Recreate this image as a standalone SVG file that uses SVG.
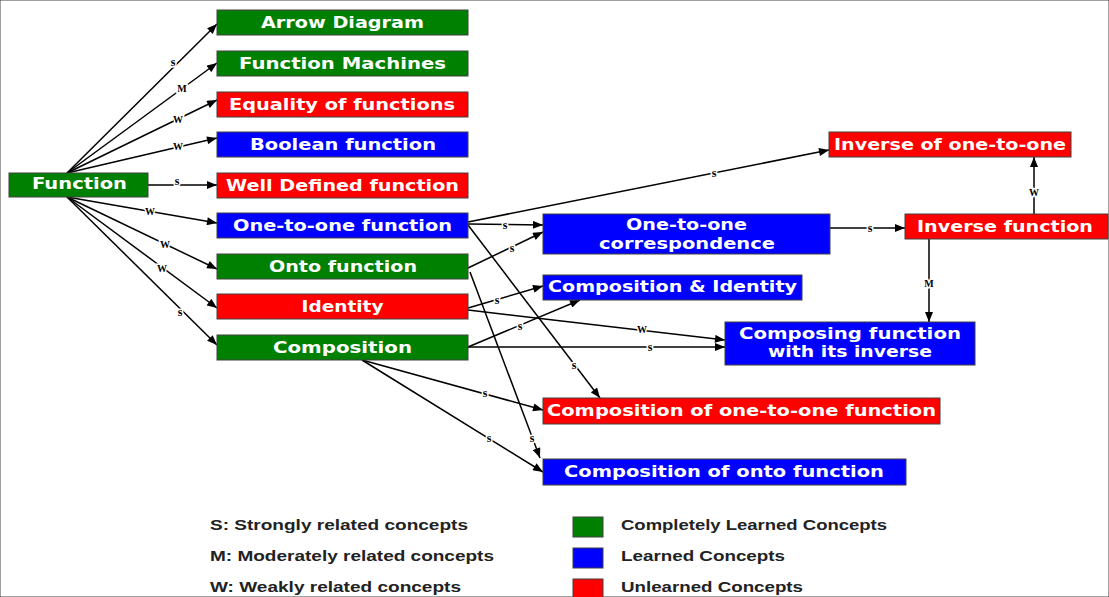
<svg xmlns="http://www.w3.org/2000/svg" width="1109" height="597" viewBox="0 0 1109 597">
<style>
.g{fill:#008000}.b{fill:#0000ff}.r{fill:#ff0000}
rect{stroke:#404040;stroke-width:1}
.t{font-family:"DejaVu Sans","Liberation Sans",Arial,sans-serif;font-weight:bold;font-size:16.5px;fill:#fff;text-anchor:middle}
.e{stroke:#000;stroke-width:1.5;fill:none;marker-end:url(#ah)}
.l{font-family:"Liberation Serif","Times New Roman",serif;font-weight:bold;font-size:12px;fill:#000;text-anchor:middle;stroke:#fff;stroke-width:3;paint-order:stroke;dominant-baseline:central}
.u{font-size:10px}
.lg{font-family:"Liberation Sans",Arial,sans-serif;font-weight:bold;font-size:15px;fill:#222}
</style>
<defs>
<marker id="ah" viewBox="0 0 10 8" refX="10" refY="4" markerWidth="11" markerHeight="8" markerUnits="userSpaceOnUse" orient="auto"><path d="M0,0 L10,4 L0,8 z" fill="#000"/></marker>
</defs>
<rect width="1109" height="597" fill="#fff" stroke="none"/>
<g id="connectors">
<line class="e" x1="67" y1="173" x2="217" y2="24"/>
<line class="e" x1="67" y1="173" x2="217" y2="63"/>
<line class="e" x1="67" y1="173" x2="217" y2="100"/>
<line class="e" x1="67" y1="173" x2="217" y2="138"/>
<line class="e" x1="148" y1="185" x2="217" y2="185"/>
<line class="e" x1="67" y1="197" x2="217" y2="223"/>
<line class="e" x1="67" y1="197" x2="217" y2="269"/>
<line class="e" x1="67" y1="197" x2="217" y2="308"/>
<line class="e" x1="67" y1="197" x2="217" y2="345"/>
<line class="e" x1="468" y1="222" x2="829" y2="150"/>
<line class="e" x1="468" y1="224" x2="543" y2="225"/>
<line class="e" x1="468" y1="225" x2="600" y2="398"/>
<line class="e" x1="468" y1="268" x2="543" y2="232"/>
<line class="e" x1="470" y1="272" x2="540" y2="458"/>
<line class="e" x1="468" y1="308" x2="543" y2="286"/>
<line class="e" x1="468" y1="310" x2="725" y2="340"/>
<line class="e" x1="468" y1="347" x2="580" y2="300"/>
<line class="e" x1="468" y1="347" x2="725" y2="347"/>
<line class="e" x1="362" y1="360" x2="543" y2="410"/>
<line class="e" x1="362" y1="360" x2="543" y2="472"/>
<line class="e" x1="830" y1="228" x2="905" y2="228"/>
<line class="e" x1="1034" y1="214" x2="1034" y2="157"/>
<line class="e" x1="929" y1="239" x2="929" y2="322"/>
<text class="l" x="173" y="62">s</text>
<text class="l u" x="182" y="88">M</text>
<text class="l u" x="178" y="119">W</text>
<text class="l u" x="178" y="146">W</text>
<text class="l" x="177" y="181">s</text>
<text class="l u" x="150" y="211">W</text>
<text class="l u" x="165" y="244">W</text>
<text class="l u" x="162" y="268">W</text>
<text class="l" x="180" y="312">s</text>
<text class="l" x="714" y="173">s</text>
<text class="l" x="505" y="225">s</text>
<text class="l" x="574" y="365">s</text>
<text class="l" x="512" y="248">s</text>
<text class="l" x="532" y="438">s</text>
<text class="l" x="497" y="300">s</text>
<text class="l u" x="642" y="329">W</text>
<text class="l" x="520" y="326">s</text>
<text class="l" x="650" y="347">s</text>
<text class="l" x="485" y="393">s</text>
<text class="l" x="489" y="438">s</text>
<text class="l" x="870" y="228">s</text>
<text class="l u" x="1034" y="192">W</text>
<text class="l u" x="929" y="283">M</text>
</g>
<g id="n-function"><rect class="g" x="9" y="173" width="139" height="24"/><text class="t" x="79.5" y="189" textLength="95" lengthAdjust="spacingAndGlyphs">Function</text></g>
<g id="n-arrow"><rect class="g" x="217" y="10" width="251" height="25"/><text class="t" x="342.5" y="28" textLength="163" lengthAdjust="spacingAndGlyphs">Arrow Diagram</text></g>
<g id="n-machines"><rect class="g" x="217" y="51" width="251" height="25"/><text class="t" x="342.5" y="69" textLength="207" lengthAdjust="spacingAndGlyphs">Function Machines</text></g>
<g id="n-equality"><rect class="r" x="217" y="92" width="251" height="25"/><text class="t" x="342" y="110" textLength="226" lengthAdjust="spacingAndGlyphs">Equality of functions</text></g>
<g id="n-boolean"><rect class="b" x="217" y="132" width="251" height="25"/><text class="t" x="343" y="150" textLength="186" lengthAdjust="spacingAndGlyphs">Boolean function</text></g>
<g id="n-welldef"><rect class="r" x="217" y="173" width="251" height="25"/><text class="t" x="342.5" y="191" textLength="233" lengthAdjust="spacingAndGlyphs">Well Defined function</text></g>
<g id="n-onetoone"><rect class="b" x="217" y="213" width="251" height="25"/><text class="t" x="342.5" y="231" textLength="219" lengthAdjust="spacingAndGlyphs">One-to-one function</text></g>
<g id="n-onto"><rect class="g" x="217" y="254" width="251" height="25"/><text class="t" x="343" y="272" textLength="148" lengthAdjust="spacingAndGlyphs">Onto function</text></g>
<g id="n-identity"><rect class="r" x="217" y="294" width="251" height="25"/><text class="t" x="342.5" y="312" textLength="82" lengthAdjust="spacingAndGlyphs">Identity</text></g>
<g id="n-composition"><rect class="g" x="217" y="335" width="251" height="25"/><text class="t" x="342.5" y="353" textLength="139" lengthAdjust="spacingAndGlyphs">Composition</text></g>
<g id="n-invone"><rect class="r" x="829" y="132" width="242" height="25"/><text class="t" x="950" y="150" textLength="232" lengthAdjust="spacingAndGlyphs">Inverse of one-to-one</text></g>
<g id="n-invfunc"><rect class="r" x="905" y="214" width="203" height="25"/><text class="t" x="1005" y="232" textLength="176" lengthAdjust="spacingAndGlyphs">Inverse function</text></g>
<g id="n-corr"><rect class="b" x="543" y="214" width="287" height="40"/><text class="t" x="686.5" y="230" textLength="121" lengthAdjust="spacingAndGlyphs">One-to-one</text><text class="t" x="687" y="249" textLength="176" lengthAdjust="spacingAndGlyphs">correspondence</text></g>
<g id="n-compid"><rect class="b" x="543" y="275" width="259" height="25"/><text class="t" x="672.5" y="292" textLength="249" lengthAdjust="spacingAndGlyphs">Composition &amp; Identity</text></g>
<g id="n-composing"><rect class="b" x="725" y="322" width="250" height="43"/><text class="t" x="850" y="339" textLength="222" lengthAdjust="spacingAndGlyphs">Composing function</text><text class="t" x="850" y="357" textLength="164" lengthAdjust="spacingAndGlyphs">with its inverse</text></g>
<g id="n-comp121"><rect class="r" x="543" y="398" width="397" height="26"/><text class="t" x="741.5" y="416" textLength="389" lengthAdjust="spacingAndGlyphs">Composition of one-to-one function</text></g>
<g id="n-componto"><rect class="b" x="543" y="459" width="363" height="26"/><text class="t" x="724" y="477" textLength="320" lengthAdjust="spacingAndGlyphs">Composition of onto function</text></g>
<g id="legend">
<text class="lg" x="210" y="530" textLength="258" lengthAdjust="spacingAndGlyphs">S: Strongly related concepts</text>
<text class="lg" x="210" y="561" textLength="284" lengthAdjust="spacingAndGlyphs">M: Moderately related concepts</text>
<text class="lg" x="210" y="592" textLength="251" lengthAdjust="spacingAndGlyphs">W: Weakly related concepts</text>
<rect class="g" x="573" y="517" width="30" height="20"/>
<rect class="b" x="573" y="548" width="30" height="20"/>
<rect class="r" x="573" y="579" width="30" height="20"/>
<text class="lg" x="621" y="530" textLength="266" lengthAdjust="spacingAndGlyphs">Completely Learned Concepts</text>
<text class="lg" x="621" y="561" textLength="164" lengthAdjust="spacingAndGlyphs">Learned Concepts</text>
<text class="lg" x="621" y="592" textLength="182" lengthAdjust="spacingAndGlyphs">Unlearned Concepts</text>
</g>
</svg>
